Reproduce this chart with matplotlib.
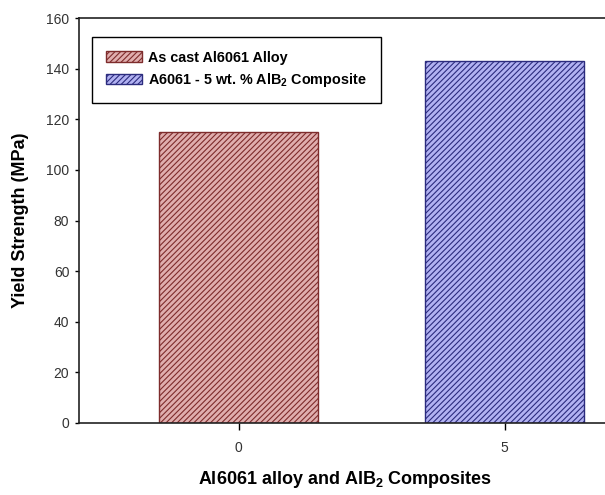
import matplotlib
matplotlib.use("Agg")
import matplotlib.pyplot as plt

# data
positions = [0, 5]
tick_labels = ["0", "5"]
yield_strength = [115, 143]
series_names = ["As cast Al6061 Alloy", "A6061 - 5 wt. % AlB$_2$ Composite"]
face_colors = ["#e0aeae", "#b2b2f2"]
hatch_colors = ["#7e2c2c", "#2c2c7e"]

plt.rcParams["mathtext.default"] = "regular"
plt.rcParams["hatch.linewidth"] = 0.8

fam = ["Liberation Sans", "DejaVu Sans"]

fig = plt.figure(figsize=(6.05, 4.95), dpi=100)
ax = fig.add_axes([79 / 605, 72 / 495, 532 / 605, 405 / 495])

for x, h, name, fc, hc in zip(positions, yield_strength, series_names, face_colors, hatch_colors):
    ax.bar(x, h, width=3.0, color=fc, edgecolor=hc, hatch="//////", linewidth=1.0, label=name)

ax.set_xlim(-3, 7)
ax.set_ylim(0, 160)
ax.set_xticks(positions)
ax.set_xticklabels(tick_labels)
ax.set_yticks(range(0, 161, 20))

for lab in ax.get_xticklabels() + ax.get_yticklabels():
    lab.set_family(fam)
    lab.set_stretch("condensed")
    lab.set_fontsize(10)
    lab.set_color("#333333")

ax.tick_params(axis="x", direction="out", length=5, pad=8, width=1)
ax.tick_params(axis="y", direction="out", length=3, pad=4, width=1)
ax.spines["right"].set_visible(False)
for s in ["left", "bottom", "top"]:
    ax.spines[s].set_linewidth(1.2)
    ax.spines[s].set_color("#222222")

ax.set_xlabel("Al6061 alloy and AlB$_2$ Composites", family=fam, stretch="condensed",
              fontweight="bold", fontsize=13, labelpad=10)
ax.set_ylabel("Yield Strength (MPa)", family=fam, stretch="condensed",
              fontweight="bold", fontsize=13, labelpad=12)

leg = ax.legend(loc="upper left", bbox_to_anchor=(13 / 532, 386 / 405),
                borderaxespad=0, fancybox=False, framealpha=1,
                edgecolor="black", handlelength=2.5, handleheight=0.75,
                handletextpad=0.45, labelspacing=0.45, borderpad=0.95,
                prop={"family": fam, "weight": "bold", "size": 10.4,
                      "stretch": "normal"})
leg.get_frame().set_linewidth(1.0)

fig.savefig("out.png", dpi=100)
